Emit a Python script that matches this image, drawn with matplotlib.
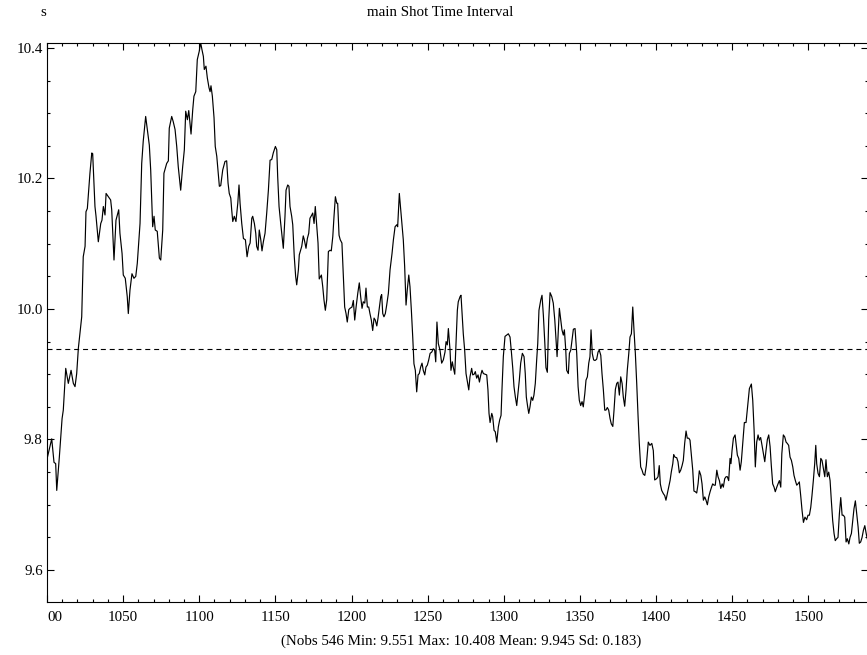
import matplotlib
matplotlib.use("Agg")
import matplotlib.pyplot as plt
from matplotlib.ticker import MultipleLocator

# values (time index, seconds)
obs_x = [1000.0, 1003.1, 1004.6, 1005.7, 1006.4, 1008.1, 1009.9, 1010.7, 1012.3, 1014.0,
         1015.8, 1017.3, 1018.4, 1019.5, 1020.6, 1022.8, 1023.8, 1025.0, 1025.6, 1026.5,
         1028.2, 1029.4, 1030.0, 1031.5, 1032.2, 1033.7, 1035.3, 1036.1, 1037.0, 1038.1,
         1038.8, 1040.3, 1041.8, 1042.5, 1044.0, 1045.3, 1046.2, 1047.1, 1047.9, 1049.3,
         1050.1, 1051.4, 1052.7, 1053.4, 1054.5, 1055.8, 1057.1, 1058.3, 1059.3, 1061.1,
         1062.2, 1063.2, 1064.8, 1065.9, 1067.2, 1068.1, 1069.4, 1070.3, 1071.1, 1072.4,
         1073.8, 1074.7, 1076.0, 1076.8, 1078.6, 1079.7, 1080.3, 1081.9, 1082.9, 1084.1,
         1085.2, 1086.2, 1087.8, 1089.1, 1090.2, 1091.1, 1092.2, 1093.1, 1093.9, 1094.6,
         1095.7, 1096.5, 1097.7, 1098.7, 1100.0, 1100.9, 1101.8, 1102.7, 1103.3, 1104.4,
         1105.3, 1106.4, 1107.1, 1107.7, 1108.6, 1109.7, 1110.5, 1111.5, 1112.3, 1113.2,
         1114.1, 1115.4, 1116.9, 1118.0, 1118.9, 1119.7, 1120.7, 1121.3, 1122.0, 1123.0,
         1124.1, 1125.3, 1126.1, 1126.8, 1127.9, 1129.0, 1130.3, 1131.4, 1132.5, 1133.4,
         1134.5, 1135.1, 1136.2, 1137.1, 1137.7, 1138.6, 1139.4, 1140.4, 1141.2, 1142.1,
         1143.2, 1144.3, 1145.4, 1146.5, 1147.6, 1148.6, 1150.0, 1150.9, 1151.5, 1152.4,
         1153.5, 1155.2, 1156.3, 1157.0, 1158.1, 1158.9, 1159.6, 1160.7, 1161.4, 1162.4,
         1163.3, 1164.0, 1165.1, 1165.7, 1167.3, 1168.3, 1169.0, 1170.1, 1171.0, 1171.9,
         1172.7, 1173.9, 1174.5, 1175.4, 1176.2, 1177.1, 1178.0, 1178.8, 1180.2, 1181.1,
         1181.9, 1182.8, 1183.7, 1184.8, 1185.9, 1186.7, 1187.7, 1188.5, 1189.4, 1190.3,
         1190.9, 1191.8, 1192.6, 1193.7, 1194.6, 1195.5, 1196.4, 1197.2, 1198.2, 1199.0,
         1200.3, 1201.2, 1202.1, 1203.0, 1204.1, 1205.1, 1206.0, 1206.9, 1207.7, 1208.7,
         1209.5, 1210.4, 1211.3, 1212.1, 1213.0, 1213.9, 1214.8, 1215.6, 1216.6, 1217.4,
         1218.3, 1219.2, 1219.8, 1220.5, 1221.3, 1222.2, 1223.1, 1224.2, 1225.3, 1226.6,
         1227.5, 1228.6, 1229.7, 1230.3, 1231.4, 1232.3, 1233.2, 1234.0, 1234.9, 1235.8,
         1236.6, 1237.6, 1238.4, 1239.3, 1240.2, 1241.0, 1241.9, 1242.8, 1243.7, 1244.5,
         1245.4, 1246.3, 1247.1, 1248.1, 1248.9, 1249.8, 1250.7, 1251.6, 1252.7, 1253.7,
         1254.6, 1255.3, 1256.1, 1257.0, 1258.1, 1259.2, 1260.3, 1261.4, 1262.1, 1262.9,
         1263.6, 1264.7, 1265.3, 1266.2, 1266.8, 1267.8, 1268.6, 1269.5, 1270.1, 1271.3,
         1271.9, 1272.6, 1273.4, 1274.3, 1275.2, 1276.1, 1277.0, 1277.8, 1278.9, 1279.6,
         1280.5, 1281.3, 1282.2, 1283.1, 1284.0, 1284.9, 1285.7, 1286.6, 1287.7, 1288.8,
         1289.6, 1290.3, 1291.0, 1292.1, 1292.7, 1293.6, 1294.4, 1295.4, 1296.4, 1297.3,
         1298.2, 1298.8, 1299.7, 1300.8, 1301.9, 1303.0, 1304.1, 1305.0, 1305.9, 1306.7,
         1307.6, 1308.5, 1309.3, 1310.2, 1311.1, 1312.2, 1313.3, 1314.1, 1314.8, 1315.7,
         1316.4, 1317.2, 1318.1, 1319.0, 1319.8, 1320.7, 1321.6, 1322.3, 1323.1, 1324.3,
         1325.1, 1326.0, 1326.9, 1327.7, 1328.6, 1329.5, 1330.4, 1331.5, 1332.5, 1333.5,
         1334.3, 1335.0, 1335.8, 1336.5, 1337.4, 1338.2, 1339.1, 1339.8, 1340.7, 1341.3,
         1342.4, 1343.1, 1344.0, 1344.8, 1345.7, 1346.8, 1347.9, 1348.8, 1349.6, 1350.5,
         1351.4, 1352.2, 1353.2, 1354.0, 1354.9, 1355.8, 1356.6, 1357.3, 1358.1, 1359.0,
         1359.9, 1361.0, 1361.9, 1362.7, 1363.7, 1364.5, 1365.4, 1366.3, 1367.1, 1368.0,
         1368.9, 1369.8, 1370.6, 1371.6, 1372.4, 1373.3, 1374.2, 1375.0, 1375.9, 1376.8,
         1377.7, 1378.5, 1379.4, 1380.3, 1381.1, 1382.1, 1382.9, 1383.8, 1384.7, 1385.5,
         1386.4, 1387.3, 1388.2, 1389.0, 1389.9, 1390.8, 1391.6, 1392.6, 1393.6, 1394.9,
         1396.0, 1397.2, 1398.2, 1399.1, 1400.4, 1401.3, 1402.1, 1402.8, 1403.7, 1404.8,
         1405.7, 1406.5, 1407.4, 1408.3, 1409.2, 1410.0, 1411.0, 1411.6, 1412.4, 1413.6,
         1414.4, 1415.3, 1416.2, 1417.1, 1417.9, 1418.8, 1419.7, 1420.5, 1421.5, 1422.3,
         1423.2, 1424.1, 1424.9, 1425.8, 1426.7, 1427.6, 1428.4, 1429.4, 1430.2, 1431.1,
         1432.0, 1432.8, 1433.7, 1434.6, 1435.5, 1436.3, 1437.2, 1438.1, 1438.9, 1439.9,
         1440.7, 1441.6, 1442.5, 1443.4, 1444.2, 1445.1, 1446.0, 1446.8, 1447.7, 1448.6,
         1449.2, 1449.9, 1450.8, 1451.9, 1452.5, 1453.4, 1454.3, 1455.2, 1456.0, 1457.0,
         1458.0, 1459.1, 1460.0, 1461.3, 1462.6, 1463.5, 1464.4, 1465.2, 1466.1, 1467.0,
         1467.8, 1468.7, 1469.6, 1470.5, 1471.4, 1472.2, 1473.1, 1474.0, 1474.9, 1475.7,
         1476.6, 1477.5, 1478.3, 1479.3, 1480.1, 1481.0, 1481.9, 1482.6, 1483.6, 1484.5,
         1485.4, 1486.2, 1487.1, 1488.0, 1488.9, 1489.8, 1490.6, 1491.5, 1492.4, 1493.2,
         1494.1, 1495.0, 1495.9, 1496.8, 1497.8, 1498.9, 1499.8, 1500.7, 1501.6, 1502.4,
         1503.3, 1504.2, 1504.9, 1505.5, 1506.4, 1507.3, 1508.2, 1509.0, 1509.9, 1510.8,
         1511.6, 1512.5, 1513.4, 1514.3, 1515.1, 1516.0, 1516.9, 1517.7, 1518.6, 1519.5,
         1520.4, 1521.3, 1522.2, 1523.0, 1523.9, 1524.8, 1525.6, 1526.6, 1527.4, 1528.3,
         1529.2, 1530.0, 1530.9, 1531.8, 1532.7, 1533.5, 1534.4, 1535.3, 1536.2, 1537.1,
         1538.0, 1538.7]
obs_y = [9.770, 9.801, 9.765, 9.763, 9.722, 9.773, 9.832, 9.845, 9.909, 9.886,
         9.906, 9.886, 9.881, 9.901, 9.940, 9.988, 10.080, 10.096, 10.149, 10.154,
         10.208, 10.239, 10.238, 10.157, 10.142, 10.103, 10.131, 10.136, 10.157, 10.144,
         10.177, 10.172, 10.167, 10.152, 10.075, 10.136, 10.144, 10.152, 10.116, 10.085,
         10.052, 10.047, 10.019, 9.993, 10.029, 10.054, 10.047, 10.050, 10.070, 10.131,
         10.223, 10.257, 10.295, 10.275, 10.251, 10.213, 10.126, 10.142, 10.121, 10.119,
         10.078, 10.075, 10.121, 10.208, 10.223, 10.227, 10.277, 10.295, 10.287, 10.275,
         10.249, 10.218, 10.182, 10.218, 10.244, 10.303, 10.290, 10.304, 10.285, 10.268,
         10.305, 10.326, 10.333, 10.382, 10.395, 10.408, 10.397, 10.387, 10.367, 10.372,
         10.354, 10.339, 10.333, 10.342, 10.326, 10.293, 10.249, 10.234, 10.213, 10.188,
         10.189, 10.213, 10.226, 10.227, 10.193, 10.177, 10.170, 10.152, 10.134, 10.142,
         10.134, 10.162, 10.190, 10.162, 10.131, 10.108, 10.106, 10.080, 10.096, 10.101,
         10.139, 10.142, 10.131, 10.116, 10.096, 10.090, 10.121, 10.106, 10.089, 10.103,
         10.116, 10.147, 10.182, 10.228, 10.229, 10.239, 10.249, 10.244, 10.203, 10.157,
         10.131, 10.093, 10.142, 10.182, 10.190, 10.188, 10.157, 10.142, 10.129, 10.080,
         10.050, 10.037, 10.060, 10.083, 10.096, 10.112, 10.106, 10.093, 10.108, 10.116,
         10.139, 10.144, 10.147, 10.131, 10.157, 10.129, 10.101, 10.046, 10.052, 10.034,
         10.014, 9.998, 10.014, 10.088, 10.090, 10.089, 10.111, 10.142, 10.172, 10.162,
         10.162, 10.113, 10.106, 10.101, 10.050, 10.003, 9.993, 9.980, 9.999, 10.001,
         10.003, 10.013, 9.983, 10.003, 10.024, 10.040, 10.019, 10.001, 10.011, 10.009,
         10.032, 10.003, 10.003, 9.993, 9.983, 9.967, 9.986, 9.983, 9.974, 9.986,
         10.003, 10.019, 10.022, 9.993, 9.988, 9.993, 10.006, 10.024, 10.060, 10.085,
         10.106, 10.126, 10.129, 10.126, 10.177, 10.152, 10.126, 10.106, 10.065, 10.006,
         10.029, 10.052, 10.034, 9.998, 9.957, 9.916, 9.906, 9.873, 9.899, 9.901,
         9.911, 9.917, 9.906, 9.899, 9.911, 9.914, 9.922, 9.932, 9.934, 9.939,
         9.937, 9.919, 9.980, 9.947, 9.937, 9.917, 9.922, 9.934, 9.950, 9.945,
         9.970, 9.937, 9.906, 9.919, 9.911, 9.900, 9.947, 9.998, 10.011, 10.019,
         10.021, 9.993, 9.962, 9.937, 9.901, 9.888, 9.876, 9.896, 9.909, 9.899,
         9.900, 9.904, 9.894, 9.899, 9.888, 9.899, 9.906, 9.901, 9.900, 9.899,
         9.876, 9.840, 9.826, 9.840, 9.835, 9.814, 9.812, 9.796, 9.819, 9.830,
         9.837, 9.876, 9.927, 9.958, 9.960, 9.962, 9.957, 9.934, 9.909, 9.881,
         9.865, 9.852, 9.870, 9.891, 9.917, 9.932, 9.927, 9.901, 9.865, 9.850,
         9.840, 9.850, 9.865, 9.860, 9.868, 9.886, 9.922, 9.947, 9.998, 10.014,
         10.021, 9.990, 9.950, 9.910, 9.903, 9.983, 10.025, 10.019, 10.009, 9.983,
         9.952, 9.927, 9.968, 10.001, 9.983, 9.968, 9.960, 9.968, 9.937, 9.906,
         9.901, 9.932, 9.937, 9.952, 9.969, 9.970, 9.932, 9.881, 9.860, 9.852,
         9.858, 9.850, 9.870, 9.891, 9.896, 9.917, 9.927, 9.968, 9.932, 9.922,
         9.921, 9.923, 9.934, 9.937, 9.929, 9.901, 9.876, 9.845, 9.845, 9.849,
         9.845, 9.832, 9.824, 9.820, 9.845, 9.877, 9.886, 9.888, 9.868, 9.896,
         9.886, 9.865, 9.851, 9.876, 9.906, 9.932, 9.957, 9.962, 10.003, 9.968,
         9.932, 9.886, 9.835, 9.794, 9.758, 9.753, 9.747, 9.745, 9.760, 9.796,
         9.791, 9.794, 9.783, 9.738, 9.740, 9.743, 9.760, 9.732, 9.722, 9.717,
         9.714, 9.707, 9.717, 9.727, 9.737, 9.750, 9.763, 9.777, 9.773, 9.772,
         9.766, 9.749, 9.753, 9.760, 9.768, 9.794, 9.813, 9.802, 9.802, 9.799,
         9.776, 9.753, 9.721, 9.720, 9.718, 9.732, 9.752, 9.745, 9.732, 9.707,
         9.712, 9.707, 9.700, 9.712, 9.720, 9.726, 9.732, 9.730, 9.730, 9.753,
         9.743, 9.737, 9.725, 9.732, 9.727, 9.740, 9.743, 9.743, 9.737, 9.771,
         9.763, 9.783, 9.802, 9.807, 9.794, 9.776, 9.771, 9.753, 9.766, 9.797,
         9.826, 9.826, 9.847, 9.878, 9.885, 9.860, 9.814, 9.758, 9.796, 9.807,
         9.799, 9.803, 9.791, 9.778, 9.766, 9.783, 9.800, 9.807, 9.789, 9.760,
         9.732, 9.727, 9.720, 9.727, 9.732, 9.737, 9.727, 9.778, 9.807, 9.804,
         9.796, 9.794, 9.791, 9.773, 9.768, 9.758, 9.745, 9.737, 9.730, 9.732,
         9.735, 9.714, 9.691, 9.673, 9.681, 9.677, 9.684, 9.684, 9.696, 9.714,
         9.737, 9.763, 9.791, 9.763, 9.748, 9.743, 9.771, 9.768, 9.755, 9.743,
         9.769, 9.743, 9.750, 9.737, 9.707, 9.676, 9.656, 9.645, 9.648, 9.650,
         9.686, 9.711, 9.684, 9.684, 9.681, 9.643, 9.648, 9.640, 9.650, 9.656,
         9.676, 9.694, 9.706, 9.686, 9.666, 9.641, 9.643, 9.650, 9.661, 9.668,
         9.656, 9.648]

mean_level = 9.939
x_ticks = [1000, 1050, 1100, 1150, 1200, 1250, 1300, 1350, 1400, 1450, 1500]
x_labels = ["00", "1050", "1100", "1150", "1200", "1250", "1300", "1350", "1400", "1450", "1500"]
y_ticks = [9.6, 9.8, 10.0, 10.2, 10.4]
y_labels = ["9.6", "9.8", "10.0", "10.2", "10.4"]
unit_label = "s"
title = "main Shot Time Interval"
summary = "(Nobs 546 Min: 9.551 Max: 10.408 Mean: 9.945 Sd: 0.183)"

plt.rcParams['font.family'] = ['Liberation Serif', 'DejaVu Serif']
W, H = 867, 655
fig = plt.figure(figsize=(W / 100, H / 100), dpi=100)
# axes box in pixel terms, right spine falls just off the picture
ax = fig.add_axes([47 / W, 1 - 602 / H, (868 - 47) / W, (602 - 42.7) / H])

ax.plot(obs_x, obs_y, color='black', lw=0.85)
ax.axhline(mean_level, color='black', lw=0.8, linestyle=(0, (4.5, 3.5)))

ax.set_xlim(1000, 1539.2)
ax.set_ylim(9.551, 10.408)

ax.set_xticks(x_ticks)
ax.set_xticklabels(x_labels)
ax.set_yticks(y_ticks)
ax.set_yticklabels(y_labels)
ax.xaxis.set_minor_locator(MultipleLocator(10))
ax.yaxis.set_minor_locator(MultipleLocator(0.05))
ax.tick_params(which='both', direction='in', top=True, right=True, width=0.8,
               labelsize=10.8, colors='black')
ax.tick_params(which='major', length=5)
ax.tick_params(which='minor', length=2.2)
ax.tick_params(axis='x', pad=6.5)
ax.tick_params(axis='y', pad=3)
ax.get_xticklabels()[0].set_horizontalalignment('left')
for sp in ax.spines.values():
    sp.set_linewidth(0.8)

fig.text(43 / W, 1 - 13 / H, unit_label, ha='center', va='center', fontsize=10.8)
fig.text(440 / W, 1 - 12 / H, title, ha='center', va='center', fontsize=10.8)
fig.text(461 / W, 1 - 641 / H, summary, ha='center', va='center', fontsize=10.8)

fig.savefig('out.png', dpi=100)
